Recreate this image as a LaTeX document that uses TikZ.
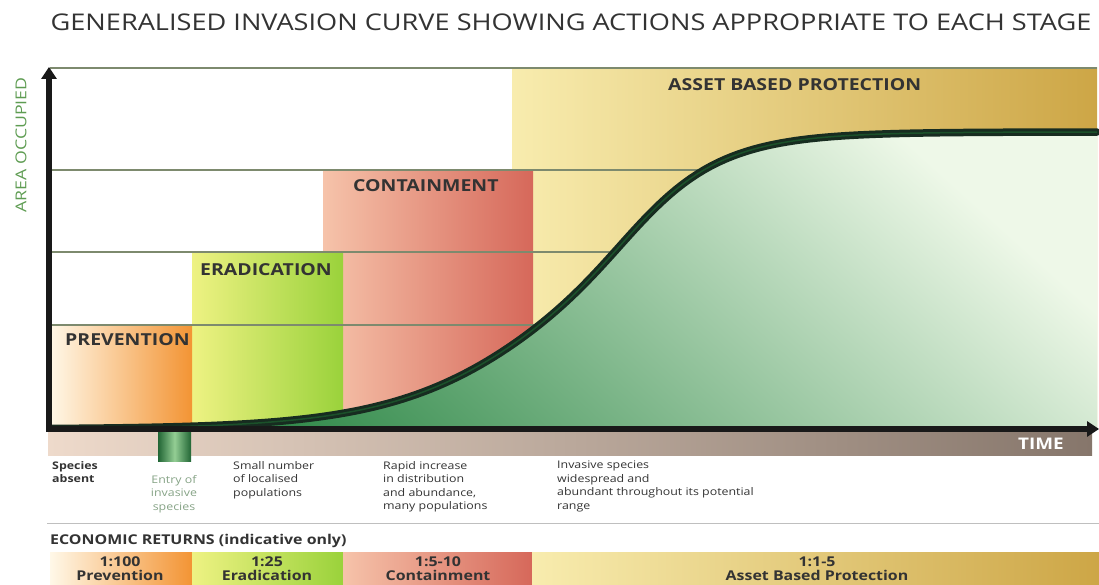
\documentclass[tikz,border=0pt]{standalone}
\usepackage{fontspec}
\setmainfont{Open Sans}[FakeStretch=1.18]
\usetikzlibrary{arrows.meta,positioning,calc}

\definecolor{prevA}{HTML}{FFF8E8}
\definecolor{prevB}{HTML}{F39434}
\definecolor{eradA}{HTML}{EEF283}
\definecolor{eradB}{HTML}{9AD23B}
\definecolor{contA}{HTML}{F6C3AA}
\definecolor{contB}{HTML}{D6685A}
\definecolor{assetA}{HTML}{F8ECAE}
\definecolor{assetB}{HTML}{CDA646}
\definecolor{greenDark}{HTML}{2C8746}
\definecolor{greenMid}{HTML}{93CE94}
\definecolor{greenPale}{HTML}{EEF8E8}
\definecolor{curveInk}{HTML}{172C20}
\definecolor{gridline}{HTML}{7D8A6E}
\definecolor{bandA}{HTML}{EEDACB}
\definecolor{bandB}{HTML}{86766B}
\definecolor{labelInk}{HTML}{333333}
\definecolor{axisGreen}{HTML}{5E9C52}
\definecolor{entryGreen}{HTML}{86A386}

% the S-shaped spread of the species over time: a logistic that rises slowly
% and then levels off fast
\pgfmathdeclarefunction{spread}{1}{%
	\pgfmathparse{156+297/(1+exp(-(#1-588)/(72-13*tanh((#1-588)/80))))}}

\begin{document}
\begin{tikzpicture}[x=1pt,y=1pt,
	stagelabel/.style={font=\bfseries\fontsize{16.5}{16.5}\selectfont, text=labelInk, anchor=west, inner sep=0pt},
	note/.style={font=\fontsize{10.5}{13.5}\selectfont, align=left, anchor=north west, inner sep=0pt, text=labelInk},
	returns/.style={font=\bfseries\fontsize{13.5}{14}\selectfont, align=center, text=labelInk, inner sep=0pt},
	grid/.style={gridline, line width=1.2pt},
	axis/.style={black!90, line width=6pt, -{Triangle[length=12pt,width=15pt]}},
	spreadplot/.style={domain=52:1097, samples=150}]
	\useasboundingbox (0,0) rectangle (1099,585);

	% title
	\node[font=\fontsize{23}{23}\selectfont, text=labelInk] (title) at (571,563)
		{GENERALISED INVASION CURVE SHOWING ACTIONS APPROPRIATE TO EACH STAGE};

	% stages, back to front
	\shade[left color=assetA, right color=assetB] (512,156) rectangle (1097,517);
	\shade[left color=contA, right color=contB] (323,156) rectangle (533,415);
	\shade[left color=eradA, right color=eradB] (192,156) rectangle (343,333);
	\shade[left color=prevA, right color=prevB] (50,156) rectangle (192,260);

	% levels
	\foreach \lvl in {517,415,333,260}
		\draw[grid] (50,\lvl) -- (1097,\lvl);

	% area under the curve
	\shade[bottom color=greenDark, middle color=greenMid, top color=greenPale, shading angle=-42]
		(52,156) -- plot[spreadplot] (\x,{spread(\x)}) -- (1097,156) -- cycle;
	\draw[curveInk, line width=7.5pt, line cap=round] plot[spreadplot] (\x,{spread(\x)});
	\draw[greenDark!60!black, line width=1.5pt] plot[spreadplot] (\x,{spread(\x)});

	% time strip and entry marker
	\shade[left color=bandA, right color=bandB] (48,129) rectangle (1092,153);
	\shade[left color=greenDark!75!black, right color=greenDark!75!black, middle color=greenMid]
		(158,123) rectangle (191,153);

	% axes
	\draw[axis] (49,153) -- (49,518);
	\draw[axis] (46,156) -- (1099,156);

	\node[font=\fontsize{15}{15}\selectfont, text=axisGreen, rotate=90] (area) at (21,440) {AREA OCCUPIED};
	\node[font=\bfseries\fontsize{16}{16}\selectfont, text=white] (time) at (1041,141) {TIME};

	\node[stagelabel] (prev) at (65,245) {PREVENTION};
	\node[stagelabel] (erad) at (200,315) {ERADICATION};
	\node[stagelabel] (cont) at (353,399) {CONTAINMENT};
	\node[stagelabel] (asset) at (668,500) {ASSET BASED PROTECTION};

	% what happens at each stage
	\node[note, font=\bfseries\fontsize{10.5}{13.5}\selectfont] (absent) at (52,124) {Species\\absent};
	\node[note, anchor=north, align=center, text=entryGreen] (entry) at (174,110) {Entry of\\invasive\\species};
	\node[note] (small) at (233,124) {Small number\\of localised\\populations};
	\node[note] (rapid) at (383,124) {Rapid increase\\in distribution\\and abundance,\\many populations};
	\node[note] (wide) at (557,124) {Invasive species\\widespread and\\abundant throughout its potential\\range};

	% economic returns
	\draw[black!25, line width=1pt] (47,61) -- (1099,61);
	\node[font=\bfseries\fontsize{13.5}{14}\selectfont, text=labelInk, anchor=west, inner sep=0pt] (econ) at (50,44)
		{ECONOMIC RETURNS (indicative only)};
	\shade[left color=prevA, right color=prevB] (50,0) rectangle (192,32);
	\shade[left color=eradA, right color=eradB] (192,0) rectangle (343,32);
	\shade[left color=contA, right color=contB] (343,0) rectangle (532,32);
	\shade[left color=assetA, right color=assetB] (532,0) rectangle (1099,32);
	\node[returns] (rprev) at (120,16) {1:100\\Prevention};
	\node[returns] (rerad) at (267,16) {1:25\\Eradication};
	\node[returns] (rcont) at (438,16) {1:5-10\\Containment};
	\node[returns] (rasset) at (817,16) {1:1-5\\Asset Based Protection};
\end{tikzpicture}
\end{document}
